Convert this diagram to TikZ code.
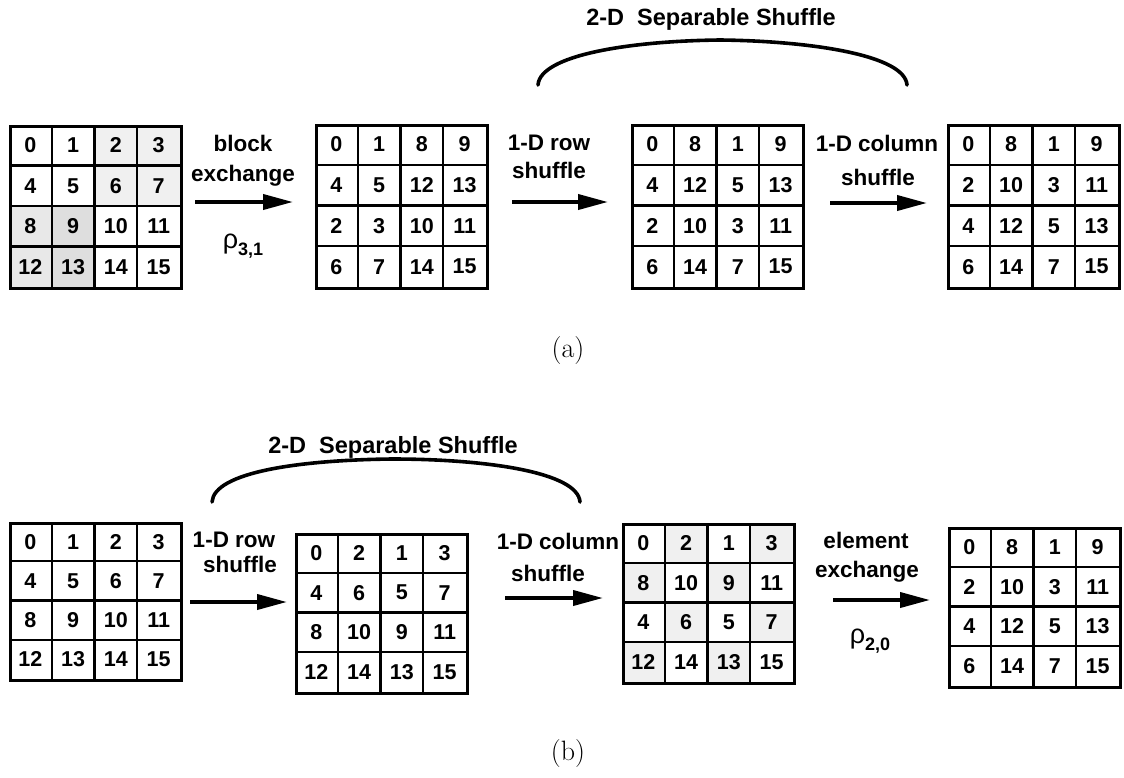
\documentclass[tikz,border=0pt]{standalone}
\usepackage{fontspec}
\newfontfamily\hv{Liberation Sans}
\usetikzlibrary{arrows.meta}
\tikzset{
  num/.style={font=\hv\bfseries\fontsize{21.5}{21.5}\selectfont, inner sep=0pt},
  lbl/.style={font=\hv\bfseries\fontsize{22.5}{24}\selectfont, inner sep=0pt},
  figcaption/.style={font=\fontsize{28}{28}\selectfont, inner sep=0pt},
  innerline/.style={line width=2.4pt},
  gridframe/.style={draw, line width=3.4pt, inner sep=0pt, rectangle},
  bigarrow/.style={line width=3.8pt, -{Triangle[length=30pt,width=15pt]}},
  brace/.style={line width=3.6pt, line cap=round},
  shA/.style={fill=black!6},
  shB/.style={fill=black!9},
  shC/.style={fill=black!13},
}
\newcommand{\gridcells}[5]{%
  \begin{scope}[shift={(#2,#3)}]
    \foreach \k in {1,2,3}{
      \draw[innerline] ({\k*171/4},0) -- ({\k*171/4},#4);
      \draw[innerline] (0,{\k*#4/4}) -- (171,{\k*#4/4});
    }
    \foreach \v [count=\i from 0] in {#5}{
      \pgfmathtruncatemacro{\rr}{div(\i,4)}
      \pgfmathtruncatemacro{\cc}{mod(\i,4)}
      \node[num] (#1-\i) at ({(\cc+0.5)*171/4},{(\rr+0.5)*#4/4}) {\v};
    }
    \node[gridframe, minimum width=171pt, minimum height=#4pt, anchor=north west] (#1) at (0,0) {};
  \end{scope}}
\newcommand{\shadecells}[4]{%
  \begin{scope}[shift={(#1,#2)}]
    \foreach \c/\r/\s in {#4}{
      \fill[\s] ({\c*171/4},{\r*#3/4}) rectangle ++(171/4,#3/4);
    }
  \end{scope}}
\begin{document}
\begin{tikzpicture}[x=1pt,y=-1pt]
\useasboundingbox[fill=white] (0,0) rectangle (1124,777);

% ---------- (a) ----------
\shadecells{9}{125}{162}{2/0/shA,3/0/shA,2/1/shA,3/1/shA,0/2/shB,0/3/shB,1/2/shC,1/3/shC}
\gridcells{g1}{9}{125}{162}{0,1,2,3,4,5,6,7,8,9,10,11,12,13,14,15}
\gridcells{g2}{315}{124}{163}{0,1,8,9,4,5,12,13,2,3,10,11,6,7,14,15}
\gridcells{g3}{631}{124}{163}{0,8,1,9,4,12,5,13,2,10,3,11,6,14,7,15}
\gridcells{g4}{947}{124}{163}{0,8,1,9,2,10,3,11,4,12,5,13,6,14,7,15}

\coordinate (a1s) at (195,202); \coordinate (a1e) at (293,202);
\coordinate (a2s) at (512,202); \coordinate (a2e) at (608,202);
\coordinate (a3s) at (830,203); \coordinate (a3e) at (927,203);
\draw[bigarrow] (a1s) -- (a1e);
\draw[bigarrow] (a2s) -- (a2e);
\draw[bigarrow] (a3s) -- (a3e);

\node[lbl] (t1a) at (243,143) {block};
\node[lbl] (t1b) at (243,176) {exchange};
\node[lbl] (t1c) at (243,246) {{\mdseries\fontsize{27}{27}\selectfont ρ}\raisebox{-7pt}{\fontsize{18}{18}\selectfont 3,1}};
\node[lbl] (t2a) at (549,143) {1-D row};
\node[lbl] (t2b) at (549,170) {shuffle};
\node[lbl] (t3a) at (877,143) {1-D column};
\node[lbl] (t3b) at (878,177) {shuffle};

\node[lbl, font=\hv\bfseries\fontsize{23.5}{24}\selectfont] (tt1) at (711,19) {2-D\ \ Separable Shuffle};
\coordinate (b1s) at (538,85); \coordinate (b1m) at (720,40); \coordinate (b1e) at (907,85);
\draw[brace] (b1s) .. controls (540,55) and (630,41) .. (b1m) .. controls (810,41) and (905,55) .. (b1e);

\node[figcaption] (capa) at (568,351) {(a)};

% ---------- (b) ----------
\shadecells{622}{523}{159}{1/0/shA,3/0/shA,0/1/shA,2/1/shA,1/2/shA,3/2/shA,0/3/shA,2/3/shA}
\gridcells{g5}{9}{522}{157}{0,1,2,3,4,5,6,7,8,9,10,11,12,13,14,15}
\gridcells{g6}{295}{533}{159}{0,2,1,3,4,6,5,7,8,10,9,11,12,14,13,15}
\gridcells{g7}{622}{523}{159}{0,2,1,3,8,10,9,11,4,6,5,7,12,14,13,15}
\gridcells{g8}{948}{527}{159}{0,8,1,9,2,10,3,11,4,12,5,13,6,14,7,15}

\coordinate (c1s) at (190,602); \coordinate (c1e) at (287,602);
\coordinate (c2s) at (505,598); \coordinate (c2e) at (603,598);
\coordinate (c3s) at (833,600); \coordinate (c3e) at (930,600);
\draw[bigarrow] (c1s) -- (c1e);
\draw[bigarrow] (c2s) -- (c2e);
\draw[bigarrow] (c3s) -- (c3e);

\node[lbl] (u1a) at (234,540) {1-D row};
\node[lbl] (u1b) at (240,564) {shuffle};
\node[lbl] (u2a) at (558,541) {1-D column};
\node[lbl] (u2b) at (548,573) {shuffle};
\node[lbl] (u3a) at (866,540) {element};
\node[lbl] (u3b) at (867,572) {exchange};
\node[lbl] (u3c) at (870,641) {{\mdseries\fontsize{27}{27}\selectfont ρ}\raisebox{-7pt}{\fontsize{18}{18}\selectfont 2,0}};

\node[lbl, font=\hv\bfseries\fontsize{23.5}{24}\selectfont] (tt2) at (393,447) {2-D\ \ Separable Shuffle};
\coordinate (d1s) at (212,502); \coordinate (d1m) at (392,459); \coordinate (d1e) at (580,502);
\draw[brace] (d1s) .. controls (214,472) and (300,460) .. (d1m) .. controls (485,459) and (578,472) .. (d1e);

\node[figcaption] (capb) at (568,754) {(b)};
\end{tikzpicture}
\end{document}
